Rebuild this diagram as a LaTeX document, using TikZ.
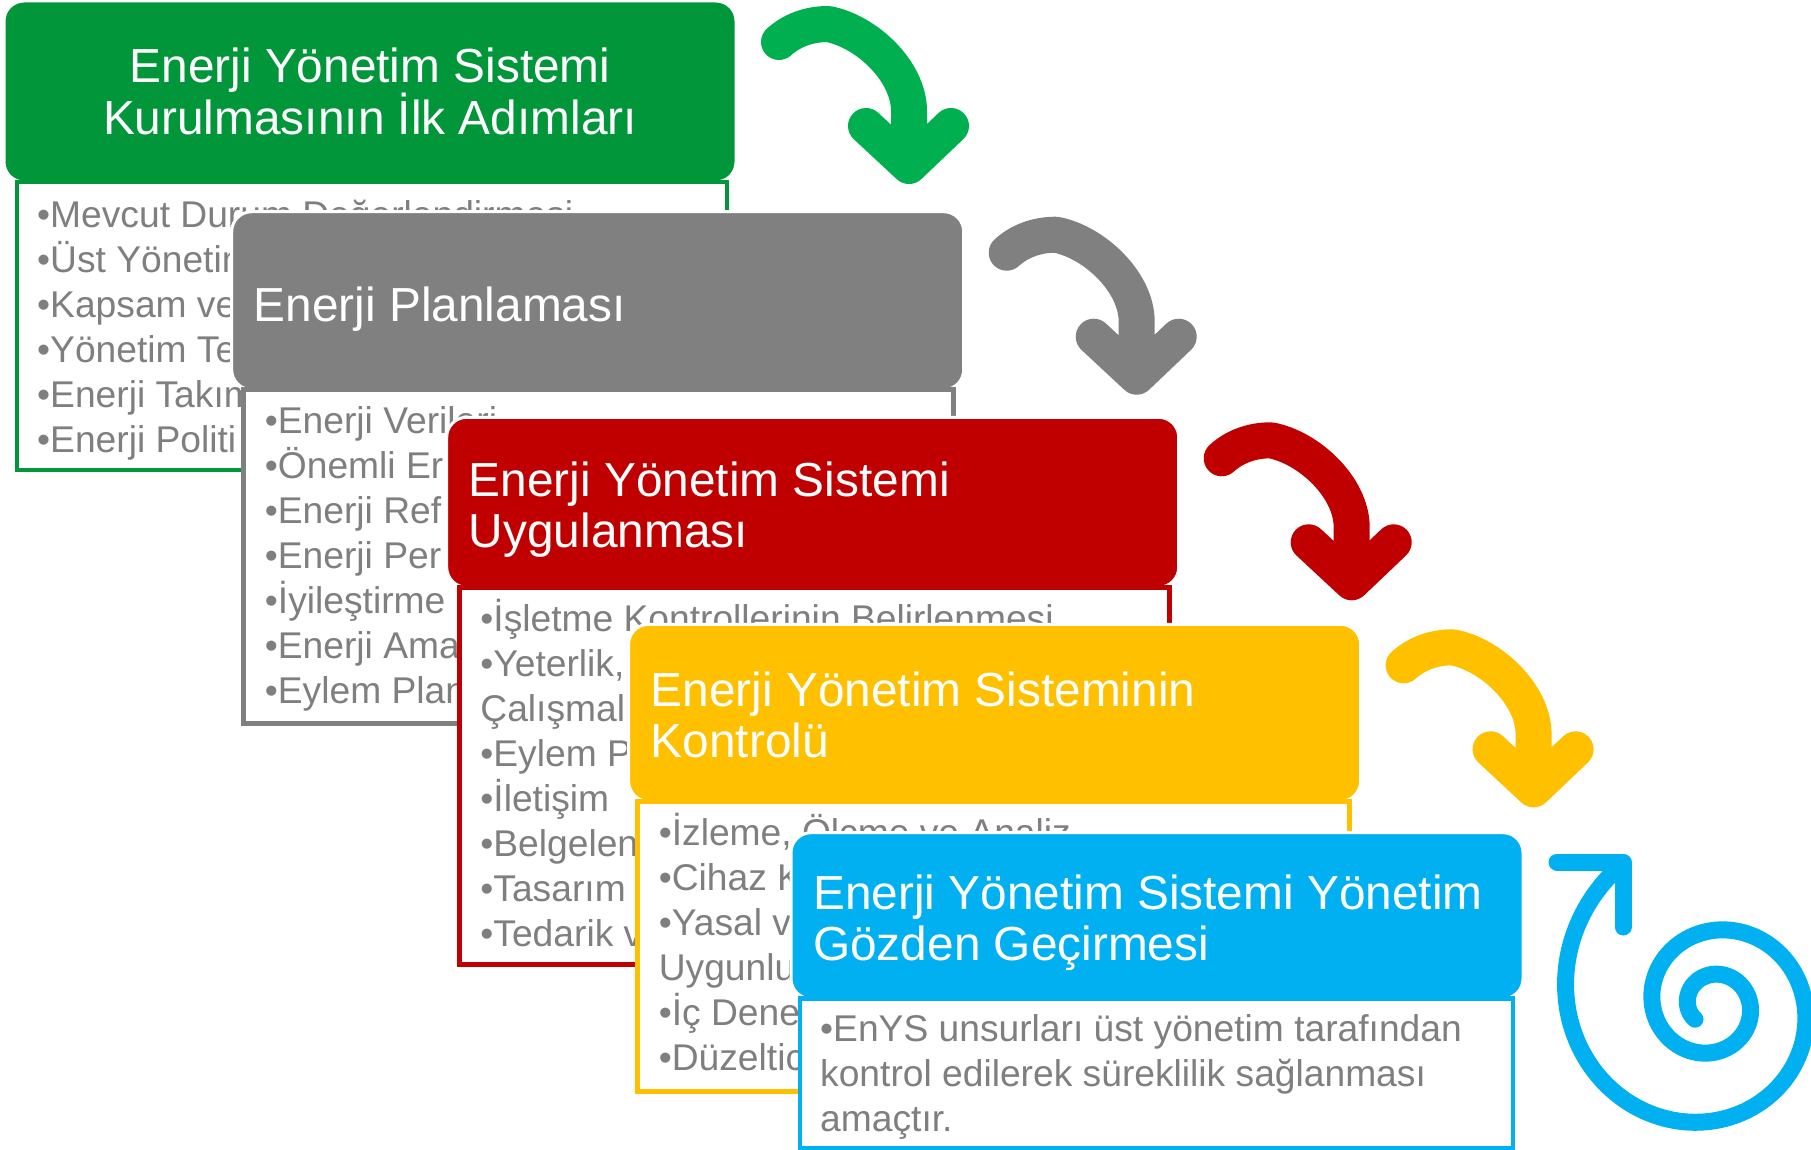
\documentclass[tikz,border=0pt]{standalone}
\usepackage{fontspec}
\setmainfont{Liberation Sans}
\usetikzlibrary{calc}
\definecolor{hgreen}{RGB}{0,150,57}
\definecolor{agreen}{RGB}{0,176,80}
\definecolor{hgray}{RGB}{128,128,128}
\definecolor{hred}{RGB}{192,0,0}
\definecolor{hyellow}{RGB}{255,192,0}
\definecolor{hblue}{RGB}{0,176,240}
\definecolor{itemgray}{RGB}{127,127,127}
\def\turnarrow[#1](#2){\draw[#1, line width=36, line cap=round, line join=round, shift={(#2)}] (43,41) .. controls (55,30) and (72,23) .. (92,23) .. controls (130,30) and (173,70) .. (173,110) -- (173,160) (130,125) -- (173,165) -- (215,125);}

\begin{document}
\begin{tikzpicture}[x=1pt, y=-1pt,
	head/.style={fill=#1, draw=white, line width=3, rounded corners=20, minimum width=732, inner sep=0, outer sep=0, anchor=north west},
	body/.style={draw=#1, fill=white, line width=4.5},
	title/.style={text=white, font=\fontsize{47.8}{51}\selectfont, inner sep=0, align=left, anchor=base west},
	items/.style={text=itemgray, font=\fontsize{37.2}{45}\selectfont, inner sep=0, align=left, anchor=base west}]
		%%%%% START %%%%%
		\useasboundingbox (0,0) rectangle (1811,1150);
		
		% first step
		\node[head=hgreen, minimum height=181] (h1) at (4,1) {};
		\node[title, align=center, anchor=base] (t1) at ([yshift=-43]h1.center) {Enerji Yönetim Sistemi\\Kurulmasının İlk Adımları};
		\draw[body=hgreen] ([xshift=13]h1.south west) rectangle ([xshift=-9, yshift=-288]h1.south east);
		\node[items] (i1) at ([xshift=33, yshift=-270]h1.south west) {•Mevcut Durum Değerlendirmesi\\•Üst Yönetim\\•Kapsam ve\\•Yönetim Te\\•Enerji Takım\\•Enerji Politi};
		\turnarrow[agreen](h1.north east);
		
		% planning
		\node[head=hgray, minimum height=178] (h2) at (231.7,211.7) {};
		\node[title] (t2) at ([xshift=22, yshift=-21]h2.west) {Enerji Planlaması};
		\draw[body=hgray] ([xshift=12]h2.south west) rectangle ([xshift=-10, yshift=-334]h2.south east);
		\node[items] (i2) at ([xshift=33, yshift=-314]h2.south west) {•Enerji Verileri\\•Önemli Er\\•Enerji Ref\\•Enerji Per\\•İyileştirme\\•Enerji Ama\\•Eylem Plan};
		\turnarrow[hgray](h2.north east);
		
		% implementation
		\node[head=hred, minimum height=170] (h3) at (446.7,417.3) {};
		\node[title] (t3) at ([xshift=22, yshift=-45]h3.west) {Enerji Yönetim Sistemi\\Uygulanması};
		\draw[body=hred] ([xshift=13]h3.south west) rectangle ([xshift=-9, yshift=-377]h3.south east);
		\node[items] (i3) at ([xshift=33.5, yshift=-359]h3.south west) {•İşletme Kontrollerinin Belirlenmesi\\•Yeterlik,\\Çalışmal\\•Eylem P\\•İletişim\\•Belgelen\\•Tasarım\\•Tedarik v};
		\turnarrow[hred](h3.north east);
		
		% checking
		\node[head=hyellow, minimum height=177] (h4) at (628.6,624.3) {};
		\node[title] (t4) at ([xshift=22, yshift=-45]h4.west) {Enerji Yönetim Sisteminin\\Kontrolü};
		\draw[body=hyellow] ([xshift=9]h4.south west) rectangle ([xshift=-11, yshift=-290]h4.south east);
		\node[items] (i4) at ([xshift=30, yshift=-269]h4.south west) {•İzleme, Ölçme ve Analiz\\•Cihaz K\\•Yasal v\\Uygunlu\\•İç Dene\\•Düzeltic};
		\turnarrow[hyellow](h4.north east);
		
		% review
		\node[head=hblue, minimum height=166] (h5) at (791,832.7) {};
		\node[title] (t5) at ([xshift=22, yshift=-45]h5.west) {Enerji Yönetim Sistemi Yönetim\\Gözden Geçirmesi};
		\draw[body=hblue] ([xshift=9]h5.south west) rectangle ([xshift=-10, yshift=-150]h5.south east);
		\node[items] (i5) at ([xshift=29, yshift=-133]h5.south west) {•EnYS unsurları üst yönetim tarafından\\kontrol edilerek süreklilik sağlanması\\amaçtır.};
		
		% spiral
		\draw[hblue, line width=17, line cap=round, line join=round] (1557,862) -- (1623,862) -- (1623,927);
		\draw[hblue, line width=17, line cap=round] plot[domain=237:-580, samples=180, smooth, variable=\t] ({1712+145*exp(0.002479*(\t-180))*cos(\t)}, {1005+145*exp(0.002479*(\t-180))*sin(\t)});
		
		%%%%% END %%%%%
\end{tikzpicture}
\end{document}
